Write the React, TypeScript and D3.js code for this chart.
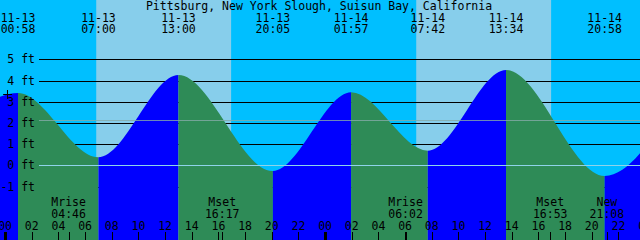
import React from "react";
import * as d3 from "d3";

const TITLE = "Pittsburg, New York Slough, Suisun Bay, California";

// tide extrema (first and last lie just outside the visible window)
const extremaTimes = [
  "11-12 18:40", "11-13 00:58", "11-13 07:00", "11-13 13:00", "11-13 20:05",
  "11-14 01:57", "11-14 07:42", "11-14 13:34", "11-14 20:58", "11-15 02:50",
];
const extremaLevels = [0.6, 3.41, 0.38, 4.26, -0.27, 3.44, 0.69, 4.5, -0.5, 3.6];

const sunriseTimes = ["11-13 06:50", "11-14 06:50"];
const sunsetTimes = ["11-13 16:57", "11-14 16:57"];

const moonEventNames = ["Mrise", "Mset", "Mrise", "Mset", "New"];
const moonEventTimes = ["11-13 04:46", "11-13 16:17", "11-14 06:02", "11-14 16:53", "11-14 21:08"];

const levelTicks = [-1, 0, 1, 2, 3, 4, 5];
const meanLevel = 2.12;
const nowTime = "11-13 00:09";
const nowLevel = 3.34;

const windowStart = "11-12 23:37";
const windowEnd = "11-14 23:37";

const W = 640;
const H = 240;
const FONT = "'DejaVu Sans Mono', monospace";

const parse = d3.utcParse("%m-%d %H:%M");
const P = (s: string) => parse(s) as Date;

export default function App() {
  const x = d3.scaleUtc().domain([P(windowStart), P(windowEnd)]).range([0, W]);
  const y = d3.scaleLinear().domain([0, 5]).range([165.3, 59.3]);

  const pts = extremaTimes.map((t, i) => ({ t: P(t), v: extremaLevels[i] }));
  const area = d3
    .area<{ t: Date; v: number }>()
    .x((d) => x(d.t))
    .y0(H)
    .y1((d) => y(d.v))
    .curve(d3.curveMonotoneX);

  const fmtDay = d3.utcFormat("%m-%d");
  const fmtTime = d3.utcFormat("%H:%M");
  const fmtHour = d3.utcFormat("%H");

  const hours = d3.utcHour.every(2)!.range(x.invert(-20), x.invert(W + 20));

  return (
    <svg
      width={W}
      height={H}
      style={{ position: "absolute", left: 0, top: 0, display: "block" }}
      fontFamily={FONT}
      fontSize={11.5}
    >
      <defs>
        <clipPath id="water">
          <path d={area(pts) || ""} />
        </clipPath>
      </defs>
      {/* night sky */}
      <rect x={0} y={0} width={W} height={H} fill="#00BFFF" />
      {/* day sky */}
      {sunriseTimes.map((s, i) => (
        <rect
          key={"d" + i}
          x={x(P(s))}
          y={0}
          width={x(P(sunsetTimes[i])) - x(P(s))}
          height={H}
          fill="#87CEEB"
        />
      ))}
      {/* depth lines */}
      {levelTicks.map((v) => (
        <line key={"l" + v} x1={39} x2={W} y1={Math.round(y(v)) + 0.5} y2={Math.round(y(v)) + 0.5} stroke="#000" strokeWidth={1} />
      ))}
      {/* water */}
      <g clipPath="url(#water)">
        {pts.slice(0, -1).map((p, i) => {
          const q = pts[i + 1];
          return (
            <rect
              key={"w" + i}
              x={x(p.t)}
              y={0}
              width={x(q.t) - x(p.t)}
              height={H}
              fill={q.v > p.v ? "#0000FF" : "#2E8B57"}
            />
          );
        })}
      </g>
      {/* datum and mean lines */}
      <line x1={39} x2={W} y1={Math.round(y(0)) + 0.5} y2={Math.round(y(0)) + 0.5} stroke="#8fd3ea" strokeWidth={1} />
      <line x1={39} x2={W} y1={Math.round(y(meanLevel)) + 0.5} y2={Math.round(y(meanLevel)) + 0.5} stroke="#84aaa8" strokeOpacity={0.8} strokeWidth={1} />
      {/* level labels */}
      {levelTicks.map((v) => (
        <text key={"t" + v} x={35} y={y(v) + 4} textAnchor="end" fill="#000">
          {v + " ft"}
        </text>
      ))}
      {/* title */}
      <text x={319} y={9.5} textAnchor="middle" fill="#000">
        {TITLE}
      </text>
      {/* extrema labels */}
      {pts.slice(1, -1).map((p, i) => (
        <g key={"e" + i}>
          <text x={x(p.t)} y={21.5} textAnchor="middle" fill="#000">
            {fmtDay(p.t)}
          </text>
          <text x={x(p.t)} y={33} textAnchor="middle" fill="#000">
            {fmtTime(p.t)}
          </text>
        </g>
      ))}
      {/* hour labels and ticks */}
      {hours.map((h, i) => {
        const hx = Math.round(x(h));
        const midnight = h.getUTCHours() === 0;
        return (
          <g key={"h" + i}>
            <text x={x(h)} y={230} textAnchor="middle" fill="#000">
              {fmtHour(h)}
            </text>
            <rect x={midnight ? hx - 1 : hx} y={232} width={midnight ? 3 : 1} height={8} fill="#000" />
          </g>
        );
      })}
      {/* moon events */}
      {moonEventTimes.map((s, i) => {
        const t = P(s);
        return (
          <g key={"m" + i}>
            <text x={x(t)} y={206} textAnchor="middle" fill="#000">
              {moonEventNames[i]}
            </text>
            <text x={x(t)} y={217.5} textAnchor="middle" fill="#000">
              {fmtTime(t)}
            </text>
            <rect x={Math.round(x(t))} y={232} width={1} height={8} fill="#000" />
          </g>
        );
      })}
      {/* now mark */}
      <g stroke="#000" strokeWidth={1}>
        <line x1={x(P(nowTime)) - 4} x2={x(P(nowTime)) + 5} y1={Math.round(y(nowLevel)) + 0.5} y2={Math.round(y(nowLevel)) + 0.5} />
        <line x1={Math.round(x(P(nowTime))) + 0.5} x2={Math.round(x(P(nowTime))) + 0.5} y1={y(nowLevel) - 4.5} y2={y(nowLevel) + 4.5} />
      </g>
    </svg>
  );
}
